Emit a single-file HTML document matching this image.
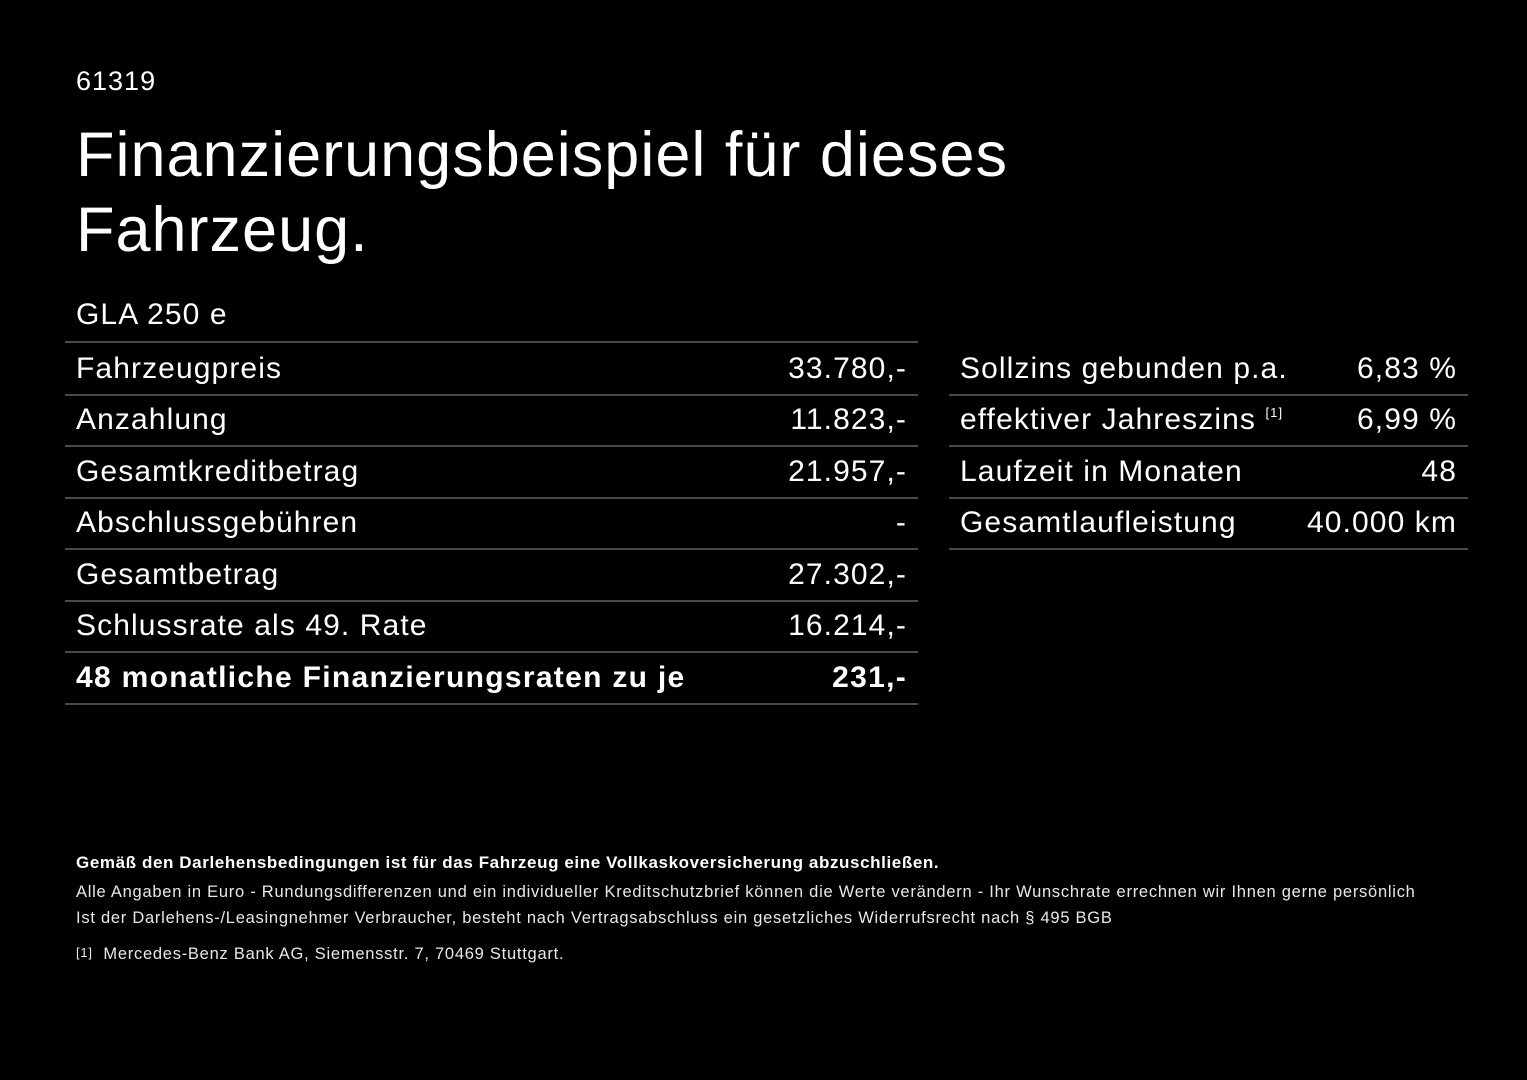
<!DOCTYPE html>
<html><head><meta charset="utf-8"><style>
body{margin:0;width:1527px;height:1080px;background:#000;color:#fff;font-family:"Liberation Sans",Arial,sans-serif;position:relative;overflow:hidden}
.a{position:absolute;white-space:nowrap}
.row{position:absolute;height:51px;border-bottom:2px solid #4a4a4a;font-size:30px;line-height:51px;letter-spacing:1.1px}
.row .l{position:absolute;left:11px}
.row .r{position:absolute;right:11px}
.f{font-size:16.5px;color:#e8e8e8;letter-spacing:0.74px}
sup{font-size:13px;position:relative;top:-12px;line-height:0;vertical-align:baseline}
</style></head><body>
<div class="a" style="left:76px;top:66px;font-size:27px;letter-spacing:1px">61319</div>
<div class="a" style="left:76px;top:118px;font-size:63px;line-height:75px;letter-spacing:1px">Finanzierungsbeispiel für dieses<br>Fahrzeug.</div>
<div class="a" style="left:76px;top:298px;font-size:30px;letter-spacing:1.1px">GLA 250 e</div>
<div style="position:absolute;left:65px;top:341px;width:853px;border-top:2px solid #4a4a4a"></div>
<div class="row" style="left:65px;top:343px;width:853px"><span class="l">Fahrzeugpreis</span><span class="r">33.780,-</span></div>
<div class="row" style="left:65px;top:394px;width:853px"><span class="l">Anzahlung</span><span class="r">11.823,-</span></div>
<div class="row" style="left:65px;top:446px;width:853px"><span class="l">Gesamtkreditbetrag</span><span class="r">21.957,-</span></div>
<div class="row" style="left:65px;top:497px;width:853px"><span class="l">Abschlussgebühren</span><span class="r">-</span></div>
<div class="row" style="left:65px;top:549px;width:853px"><span class="l">Gesamtbetrag</span><span class="r">27.302,-</span></div>
<div class="row" style="left:65px;top:600px;width:853px"><span class="l">Schlussrate als 49. Rate</span><span class="r">16.214,-</span></div>
<div class="row" style="left:65px;top:652px;width:853px;font-weight:bold;letter-spacing:1.3px"><span class="l">48 monatliche Finanzierungsraten zu je</span><span class="r">231,-</span></div>
<div class="row" style="left:949px;top:343px;width:519px"><span class="l">Sollzins gebunden p.a.</span><span class="r">6,83 %</span></div>
<div class="row" style="left:949px;top:394px;width:519px"><span class="l">effektiver Jahreszins <sup>[1]</sup></span><span class="r">6,99 %</span></div>
<div class="row" style="left:949px;top:446px;width:519px"><span class="l">Laufzeit in Monaten</span><span class="r">48</span></div>
<div class="row" style="left:949px;top:497px;width:519px"><span class="l">Gesamtlaufleistung</span><span class="r">40.000 km</span></div>
<div class="a" style="left:76px;top:853px;font-size:17px;font-weight:bold;letter-spacing:0.6px">Gemäß den Darlehensbedingungen ist für das Fahrzeug eine Vollkaskoversicherung abzuschließen.</div>
<div class="a f" style="left:76px;top:883px">Alle Angaben in Euro - Rundungsdifferenzen und ein individueller Kreditschutzbrief können die Werte verändern - Ihr Wunschrate errechnen wir Ihnen gerne persönlich</div>
<div class="a f" style="left:76px;top:909px">Ist der Darlehens-/Leasingnehmer Verbraucher, besteht nach Vertragsabschluss ein gesetzliches Widerrufsrecht nach § 495 BGB</div>
<div class="a f" style="left:76px;top:945px"><span style="font-size:13px;position:relative;top:-2px">[1]</span>&nbsp; Mercedes-Benz Bank AG, Siemensstr. 7, 70469 Stuttgart.</div>
</body></html>
